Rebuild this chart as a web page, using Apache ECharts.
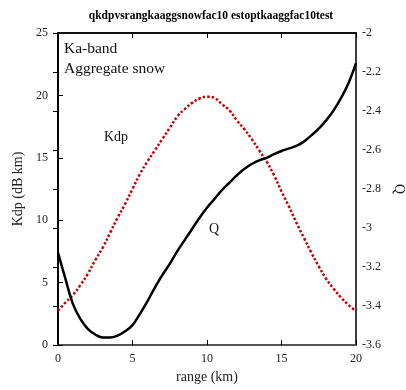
<!DOCTYPE html>
<html>
<head>
<meta charset="utf-8">
<script src="https://cdn.jsdelivr.net/npm/echarts@6/dist/echarts.min.js"></script>
<style>
  html, body { margin: 0; padding: 0; background: #fff; }
  #chart { width: 406px; height: 390px; }
</style>
</head>
<body>
<div id="chart"></div>
<script>
// Range samples (km)
const rangeKm = [0, 0.5, 1, 1.5, 2, 2.5, 3, 3.5, 4, 4.5, 5, 5.5, 6, 6.5, 7, 7.5, 8, 8.5, 9, 9.5,
  10, 10.5, 11, 11.5, 12, 12.5, 13, 13.5, 14, 14.5, 15, 15.5, 16, 16.5, 17, 17.5, 18, 18.5, 19, 19.5, 20];

// Specific differential phase, Kdp (left axis)
const kdpValues = [2.75, 3.4, 4.0, 4.8, 5.7, 6.8, 7.8, 9.0, 10.2, 11.3, 12.5, 13.7, 14.7, 15.6, 16.5, 17.4, 18.3, 18.9, 19.4, 19.75,
  19.9, 19.8, 19.3, 18.8, 18.0, 17.3, 16.5, 15.6, 14.7, 13.6, 12.3, 11.1, 9.8, 8.6, 7.4, 6.3, 5.3, 4.5, 3.8, 3.2, 2.7];

// Q (right axis)
const qValues = [-3.126, -3.261, -3.389, -3.466, -3.517, -3.546, -3.562, -3.562, -3.552, -3.530, -3.498, -3.440, -3.376, -3.306, -3.242, -3.184, -3.120, -3.062, -3.005, -2.947,
  -2.896, -2.851, -2.806, -2.768, -2.730, -2.698, -2.672, -2.653, -2.640, -2.621, -2.605, -2.592, -2.579, -2.557, -2.525, -2.490, -2.448, -2.397, -2.333, -2.256, -2.154];

const serif = '"Liberation Serif", "DejaVu Serif", serif';
const textColor = '#222';

const chart = echarts.init(document.getElementById('chart'), null, { renderer: 'canvas' });

const pairs = (xs, ys) => xs.map((x, i) => [x, ys[i]]);

const inTick = { show: true, inside: true, length: 5, lineStyle: { color: '#000', width: 1 } };

chart.setOption({
  animation: false,
  backgroundColor: '#fff',
  title: {
    text: 'qkdpvsrangkaaggsnowfac10 estoptkaaggfac10test',
    left: 206, top: 5, textAlign: 'center',
    textStyle: { fontFamily: serif, fontSize: 11.5, fontWeight: 'bold', color: '#000' }
  },
  grid: {
    left: 58, right: 50, top: 33, bottom: 45,
    containLabel: false, outerBoundsMode: 'none',
    show: true, borderColor: '#000', borderWidth: 1.5, backgroundColor: 'transparent'
  },
  xAxis: [
    {
      type: 'value', min: 0, max: 20, interval: 5, position: 'bottom',
      name: 'range (km)', nameLocation: 'middle', nameGap: 25,
      nameTextStyle: { fontFamily: serif, fontSize: 14, color: textColor },
      axisLine: { show: true, lineStyle: { color: '#555', width: 2 } },
      axisTick: inTick,
      axisLabel: { fontFamily: serif, fontSize: 12, color: textColor, margin: 8 },
      splitLine: { show: false }
    },
    {
      type: 'value', min: 0, max: 20, interval: 5, position: 'top',
      axisLine: { show: true, lineStyle: { color: '#000', width: 1.5 } },
      axisTick: inTick,
      axisLabel: { show: false },
      splitLine: { show: false }
    }
  ],
  yAxis: [
    {
      type: 'value', min: 0, max: 25, interval: 5, position: 'left',
      name: 'Kdp (dB km)', nameLocation: 'middle', nameGap: 30, nameRotate: 90,
      nameTextStyle: { fontFamily: serif, fontSize: 14, color: textColor },
      axisLine: { show: true, lineStyle: { color: '#000', width: 1.5 } },
      axisTick: inTick,
      axisLabel: { fontFamily: serif, fontSize: 12, color: textColor, margin: 10 },
      splitLine: { show: false }
    },
    {
      type: 'value', min: -3.6, max: -2, interval: 0.2, position: 'right',
      name: 'Q', nameLocation: 'middle', nameGap: 32, nameRotate: -90,
      nameTextStyle: { fontFamily: serif, fontSize: 14, color: textColor },
      axisLine: { show: true, lineStyle: { color: '#000', width: 1.5 } },
      axisTick: inTick,
      axisLabel: {
        fontFamily: serif, fontSize: 12, color: textColor, margin: 6,
        formatter: v => String(Math.round(v * 10) / 10)
      },
      splitLine: { show: false }
    }
  ],
  series: [
    {
      name: 'Kdp', type: 'line', xAxisIndex: 0, yAxisIndex: 0,
      data: pairs(rangeKm, kdpValues), smooth: 0.4, showSymbol: false,
      lineStyle: { color: '#cc0000', width: 2.5, type: [2.5, 2] }
    },
    {
      name: 'Q', type: 'line', xAxisIndex: 0, yAxisIndex: 1,
      data: pairs(rangeKm, qValues), smooth: 0.4, showSymbol: false,
      lineStyle: { color: '#000', width: 2.5 }
    }
  ],
  graphic: [
    { type: 'text', left: 64, top: 41, style: { text: 'Ka-band', font: '15.5px ' + serif, fill: '#111' } },
    { type: 'text', left: 64, top: 61, style: { text: 'Aggregate snow', font: '15.5px ' + serif, fill: '#111' } },
    { type: 'text', left: 104, top: 130, style: { text: 'Kdp', font: '14px ' + serif, fill: '#111' } },
    { type: 'text', left: 209, top: 222, style: { text: 'Q', font: '14px ' + serif, fill: '#111' } }
  ]
});
</script>
</body>
</html>
